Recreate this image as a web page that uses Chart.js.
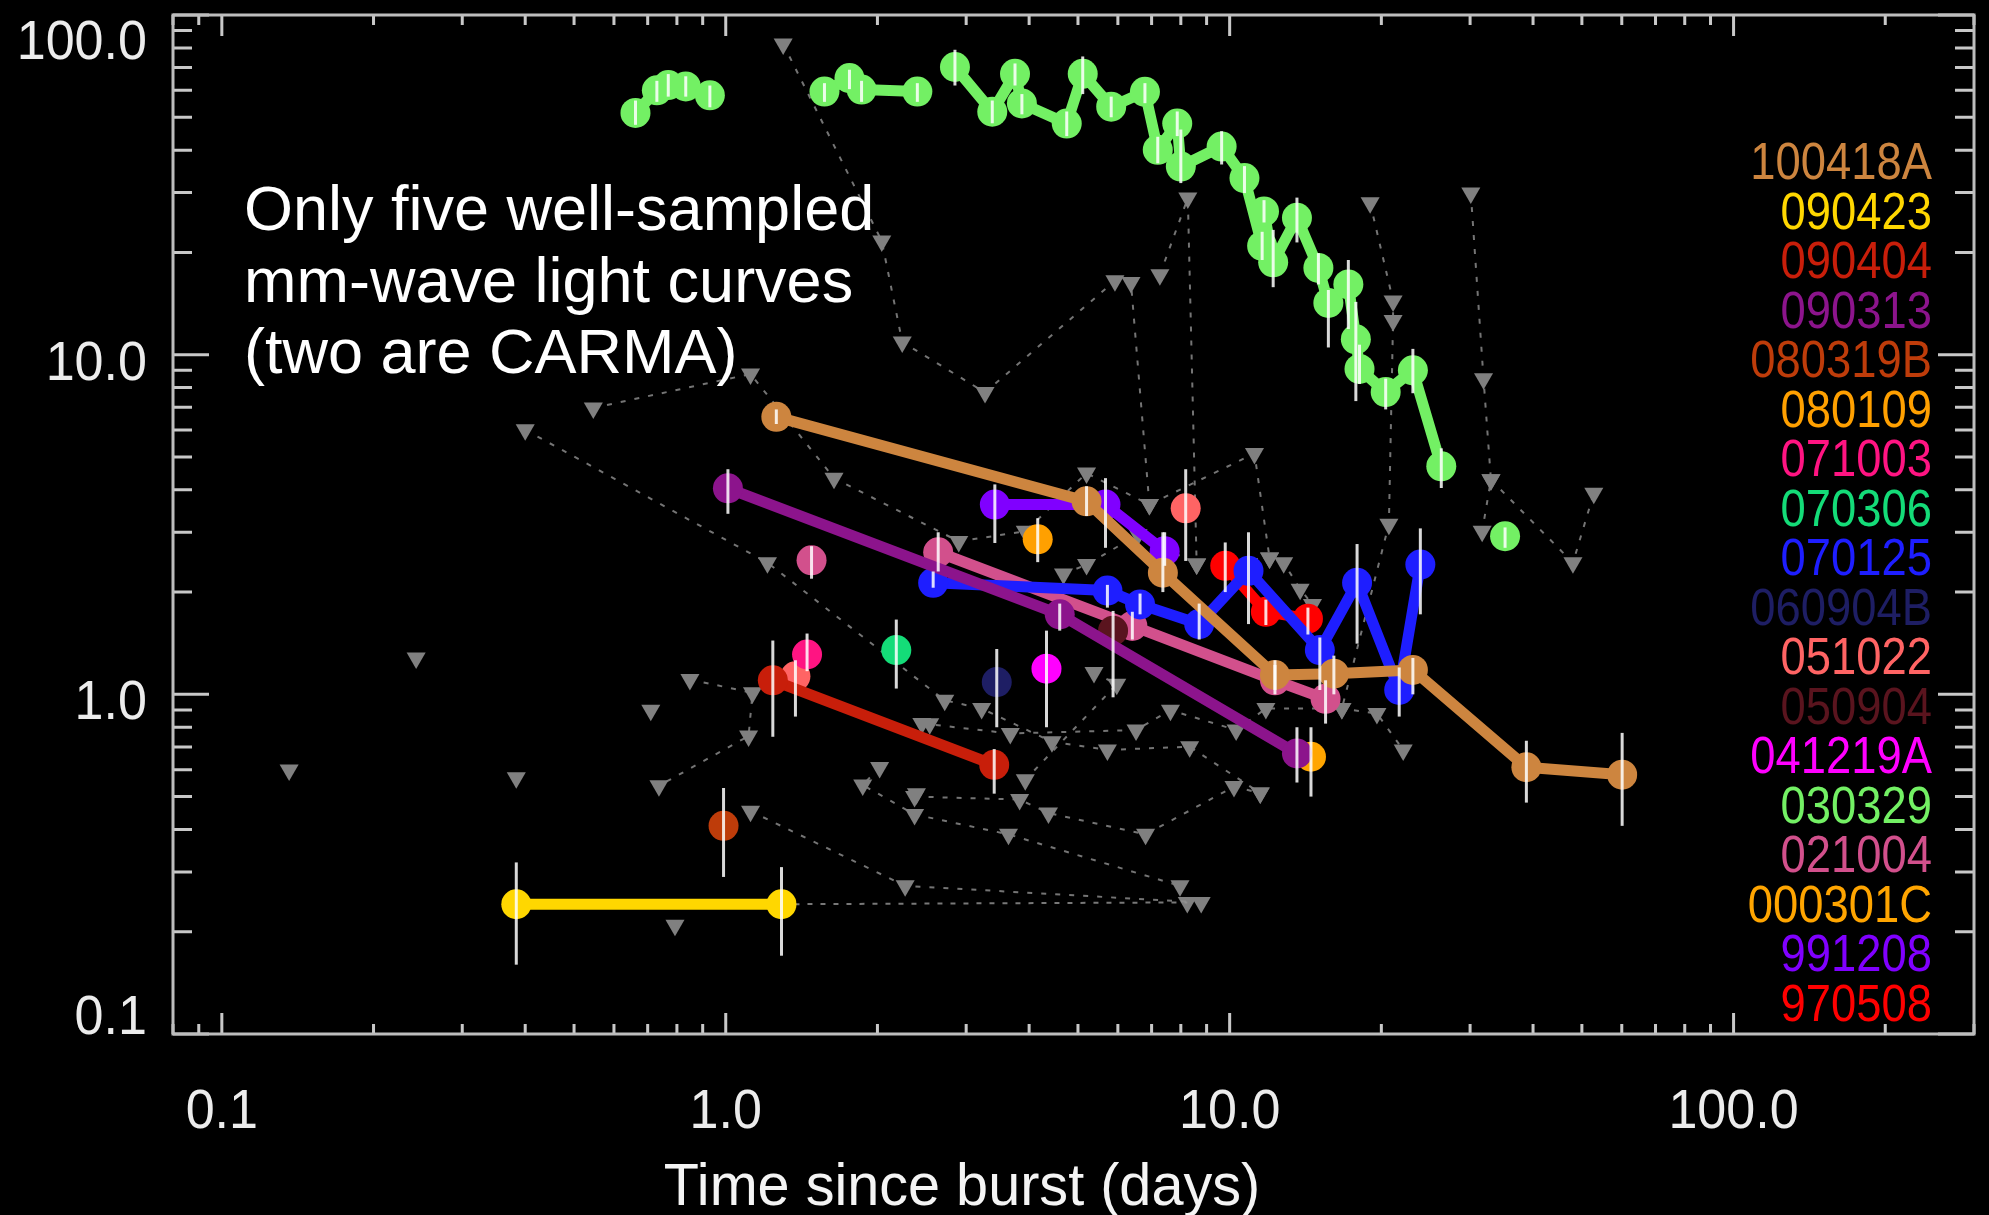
<!DOCTYPE html>
<html>
<head>
<meta charset="utf-8">
<script src="https://cdn.jsdelivr.net/npm/chart.js@4.4.0/dist/chart.umd.min.js"></script>
<style>
  html, body { margin: 0; padding: 0; background: #000; overflow: hidden; }
  #wrap { width: 1989px; height: 1215px; position: relative; background: #000; }
  canvas { display: block; }
</style>
</head>
<body>
<div id="wrap"><canvas id="c" width="1989" height="1215"></canvas></div>
<script>
// ------------------------------------------------------------------
// DATA
// ------------------------------------------------------------------
const burstNames = ['100418A','090423','090404','090313','080319B','080109','071003','070306',
                    '070125','060904B','051022','050904','041219A','030329','021004','000301C','991208','970508'];

const xTickValues = [0.1, 1, 10, 100];
const xTickLabels = ['0.1', '1.0', '10.0', '100.0'];
const yTickValues = [100, 10, 1, 0.1];
const yTickLabels = ['100.0', '10.0', '1.0', '0.1'];

const annotationLines = ['Only five well-sampled', 'mm-wave light curves', '(two are CARMA)'];
const xAxisTitle = 'Time since burst (days)';

// time since burst (days), flux, error-bar low, error-bar high
const t100418A  = [1.26, 5.2, 7.37, 12.3, 16.1, 23.1, 38.8, 60.1];
const f100418A  = [6.56, 3.70, 2.28, 1.14, 1.15, 1.18, 0.61, 0.58];
const lo100418A = [6.25, 3.35, 2.0, 1.03, 1.0, 1.0, 0.48, 0.41];
const hi100418A = [6.9, 4.1, 3.0, 1.26, 1.3, 1.28, 0.73, 0.77];

const t090423  = [0.384, 1.29];
const f090423  = [0.241, 0.241];
const lo090423 = [0.16, 0.17];
const hi090423 = [0.32, 0.31];

const t090404  = [1.24, 3.41];
const f090404  = [1.10, 0.62];
const lo090404 = [0.75, 0.51];
const hi090404 = [1.44, 0.69];

const t090313  = [1.01, 4.6, 13.6];
const f090313  = [4.04, 1.72, 0.67];
const lo090313 = [3.4, 1.54, 0.55];
const hi090313 = [4.6, 1.85, 0.80];

const t080319B  = [0.99];
const f080319B  = [0.41];
const lo080319B = [0.29];
const hi080319B = [0.53];

const t080109  = [4.16];
const f080109  = [2.86];
const lo080109 = [2.45];
const hi080109 = [3.3];

const t071003  = [1.45];
const f071003  = [1.31];
const lo071003 = [1.17];
const hi071003 = [1.51];

const t070306  = [2.18];
const f070306  = [1.35];
const lo070306 = [1.04];
const hi070306 = [1.66];

const t070125  = [2.58, 5.72, 6.64, 8.7, 10.9, 15.1, 17.9, 21.7, 23.9];
const f070125  = [2.13, 2.02, 1.84, 1.61, 2.31, 1.35, 2.13, 1.03, 2.41];
const lo070125 = [2.06, 1.8, 1.72, 1.45, 1.61, 1.03, 1.41, 0.86, 1.72];
const hi070125 = [2.3, 2.1, 1.98, 1.85, 3.0, 1.47, 2.77, 1.2, 3.08];

const t060904B  = [3.45];
const f060904B  = [1.087];
const lo060904B = [0.80];
const hi060904B = [1.36];

const t051022  = [1.375, 8.18];
const f051022  = [1.13, 3.53];
const lo051022 = [0.86, 2.47];
const hi051022 = [1.26, 4.6];

const t050904  = [5.87];
const f050904  = [1.54];
const lo050904 = [0.98];
const hi050904 = [1.76];

const t041219A  = [4.33];
const f041219A  = [1.19];
const lo041219A = [0.80];
const hi041219A = [1.54];

const t030329  = [0.662, 0.730, 0.769, 0.833, 0.930, null, 1.57, 1.76, 1.86, 2.40, null,
                  2.85, 3.38, 3.75, 3.87, 4.75, 5.11, 5.82, 6.79, 7.2, 7.87, 8.0, 9.64, 10.7,
                  11.6, 11.7, 12.2, 13.6, 15.0, 15.7, 17.2, 17.8, 18.1, 20.4, 23.1, 26.3, null, 35.2];
const f030329  = [51.5, 60.0, 62.2, 61.6, 58.0, null, 59.5, 65.2, 60.3, 59.5, null,
                  70.3, 51.9, 67.1, 54.9, 47.9, 67.1, 53.7, 59.4, 40.1, 47.9, 35.8, 41.0, 33.1,
                  20.9, 26.4, 18.7, 25.3, 18.0, 14.2, 16.1, 11.1, 9.08, 7.76, 8.99, 4.69, null, 2.92];
const lo030329 = [47.5, 55.5, 57.5, 57.5, 53.5, null, 55.5, 60.5, 55.5, 55.5, null,
                  62, 48, 62, 51, 44, 58.5, 50, 55, 36.6, 44, 32, 36.3, 29.9,
                  19, 24.5, 15.8, 21.4, 16.1, 10.5, 11.9, 7.3, 8.2, 6.9, 7.7, 4.05, null, 2.7];
const hi030329 = [56, 64, 67, 66, 62, null, 63, 69, 64, 63, null,
                  79, 56, 72, 58.5, 52, 75.5, 57.5, 63, 43.8, 52, 46, 45.5, 35.9,
                  23, 28.5, 23.3, 29, 19.9, 15.5, 19, 14.3, 10.7, 8.5, 10.4, 5.3, null, 3.1];

const t021004  = [1.48, null, 2.64, 6.41, 12.3, 15.5];
const f021004  = [2.48, null, 2.62, 1.59, 1.10, 0.97];
const lo021004 = [2.19, null, 2.3, 1.45, 1.0, 0.82];
const hi021004 = [2.73, null, 3.0, 1.75, 1.22, 1.1];

const t000301C  = [14.5];
const f000301C  = [0.655];
const lo000301C = [0.50];
const hi000301C = [0.80];

const t991208  = [3.42, 5.67, 7.43];
const f991208  = [3.62, 3.62, 2.64];
const lo991208 = [2.79, 2.70, 2.39];
const hi991208 = [4.15, 4.33, 3.0];

const t970508  = [9.8, 11.8, 14.3];
const f970508  = [2.39, 1.75, 1.67];
const lo970508 = [2.0, 1.6, 1.5];
const hi970508 = [2.8, 1.9, 1.8];

// upper limits (grey triangles), tracks joined by dashed lines, null = break
const limitDays = [
  0.40, 1.21, 2.72, 3.22, 4.44, 5.72, 8.33, 11.5, null,
  0.546, 1.12, 1.64, 2.90, 3.93, 5.2, 6.93, 11.2, 12.0, null,
  1.30, 2.04, 2.24, 3.27, 5.92, 6.37, 6.93, null,
  7.27, 8.26, 8.6, 12.0, 12.8, 13.8, 14.6, null,
  19.0, 21.1, 21.1, 20.7, 16.7, null,
  30.1, 31.9, 33.0, 31.7, null,
  33.0, 48.0, 52.8, null,
  1.12, 2.27, 8.78, null,
  2.37, 3.83, 4.37, 6.81, 10.2, 11.5, null,
  2.02, 1.87, 2.37, 3.64, 7.97, null,
  2.45, 3.67, 6.52, 7.63, 10.3, 11.8, 16.7, 19.6, 22.1, null,
  4.68, 5.2, 6.58, 8.6, null,
  0.849, 1.13, 1.11, 0.737, null,
  5.38, 5.97, 3.93
];
const limitFlux = [
  6.01, 2.44, 0.96, 0.908, 0.725, 0.686, 0.701, 0.512, null,
  6.97, 8.77, 4.33, 2.82, 3.02, 4.48, 3.62, 5.12, 2.52, null,
  82.2, 21.6, 10.9, 7.74, 16.5, 16.3, 3.62, null,
  17.2, 28.9, 2.42, 2.52, 2.44, 2.04, 1.84, null,
  28.0, 14.4, 12.6, 3.17, 0.908, null,
  29.9, 8.49, 4.28, 3.02, null,
  4.28, 2.44, 3.91, null,
  0.453, 0.273, 0.244, null,
  0.50, 0.49, 0.447, 0.387, 0.535, 0.512, null,
  0.609, 0.541, 0.443, 0.387, 0.273, null,
  0.821, 0.767, 0.785, 0.898, 0.785, 0.908, 0.908, 0.878, 0.686, null,
  2.26, 2.41, 2.95, 2.42, null,
  1.106, 1.01, 0.754, 0.538, null,
  1.16, 1.07, 0.56
];
// isolated upper limits
const isoLimitDays = [0.136, 0.243, 0.384, 0.793, 0.710, 2.39, 8.24, 2.54];
const isoLimitFlux = [0.599, 1.28, 0.568, 0.209, 0.898, 0.51, 0.244, 0.819];
// dashed connector without markers (090423 to later limit)
const connectorDays = [1.29, 8.24];
const connectorFlux = [0.241, 0.244];

// ------------------------------------------------------------------
// STYLE / LAYOUT (not data)
// ------------------------------------------------------------------
const burstColors = ['#cd853f','#ffd700','#c81e0a','#8c148c','#be3c0a','#ffa000','#ff1482','#14dc78',
                     '#1e1eff','#1e1e64','#ff6464','#5a141e','#ff00ff','#73f064','#d2508c','#ffa500','#8000ff','#ff0000'];
const burstSeries = [
  [t100418A, f100418A, lo100418A, hi100418A, true],
  [t090423, f090423, lo090423, hi090423, true],
  [t090404, f090404, lo090404, hi090404, true],
  [t090313, f090313, lo090313, hi090313, true],
  [t080319B, f080319B, lo080319B, hi080319B, true],
  [t080109, f080109, lo080109, hi080109, true],
  [t071003, f071003, lo071003, hi071003, true],
  [t070306, f070306, lo070306, hi070306, true],
  [t070125, f070125, lo070125, hi070125, true],
  [t060904B, f060904B, lo060904B, hi060904B, true],
  [t051022, f051022, lo051022, hi051022, false],
  [t050904, f050904, lo050904, hi050904, true],
  [t041219A, f041219A, lo041219A, hi041219A, true],
  [t030329, f030329, lo030329, hi030329, true],
  [t021004, f021004, lo021004, hi021004, true],
  [t000301C, f000301C, lo000301C, hi000301C, true],
  [t991208, f991208, lo991208, hi991208, true],
  [t970508, f970508, lo970508, hi970508, true]
];

const FONT = '"Liberation Sans", Arial, Helvetica, sans-serif';
const L = {
  yLabelRight: 147, yLabelDy: [24, 5, 5, -20], tickFont: 56, tickHScale: 0.93,
  xLabelCenterY: 1107.5,
  titleCenterX: 962, titleBaseline: 1205, titleFont: 60, titleHScale: 0.96,
  annoX: 244, annoBaselines: [230, 302, 373], annoFont: 63,
  legendRight: 1932, legendTop: 161, legendStep: 49.5, legendFont: 51, legendHScale: 0.89,
  frameColor: '#bdbdbd', tickColor: '#c8c8c8'
};

const pts = (xs, ys) => xs.map((v, i) => ({ x: v, y: ys[i] }));

// ------------------------------------------------------------------
const datasets = [];
burstSeries.forEach((s, i) => {
  datasets.push({
    label: burstNames[i],
    data: pts(s[0], s[1]),
    errLo: s[2], errHi: s[3],
    showLine: s[4],
    spanGaps: false,
    borderColor: burstColors[i],
    backgroundColor: burstColors[i],
    borderWidth: 11,
    borderJoinStyle: 'round',
    borderCapStyle: 'round',
    pointRadius: 15,
    pointHoverRadius: 15,
    pointBorderWidth: 0,
    pointBackgroundColor: burstColors[i]
  });
});
datasets.push({
  label: 'connector',
  data: pts(connectorDays, connectorFlux),
  showLine: true, spanGaps: false,
  borderColor: 'rgba(150,150,150,0.8)', borderWidth: 2, borderDash: [5, 8],
  pointRadius: 0, pointHoverRadius: 0
});
datasets.push({
  label: 'upper limits',
  data: pts(limitDays, limitFlux),
  showLine: true, spanGaps: false,
  borderColor: 'rgba(145,145,145,0.8)', borderWidth: 2, borderDash: [5, 9],
  pointStyle: 'triangle', pointRotation: 180, pointRadius: 11, pointHoverRadius: 11,
  pointBackgroundColor: '#808080', pointBorderWidth: 0
});
datasets.push({
  label: 'isolated limits',
  data: pts(isoLimitDays, isoLimitFlux),
  showLine: false,
  pointStyle: 'triangle', pointRotation: 180, pointRadius: 11, pointHoverRadius: 11,
  pointBackgroundColor: '#808080', pointBorderWidth: 0, borderWidth: 0
});

function drawText(ctx, text, x, y, size, color, align, hScale) {
  ctx.save();
  ctx.font = size + 'px ' + FONT;
  ctx.fillStyle = color;
  ctx.textAlign = align;
  ctx.textBaseline = 'alphabetic';
  ctx.translate(x, y);
  ctx.scale(hScale, 1);
  ctx.fillText(text, 0, 0);
  ctx.restore();
}

function logTicks(min, max) {
  const out = [];
  for (let e = Math.floor(Math.log10(min)); e <= Math.ceil(Math.log10(max)); e++) {
    for (let m = 1; m <= 9; m++) {
      const v = m * Math.pow(10, e);
      if (v >= min * 0.9999 && v <= max * 1.0001) out.push({ v, major: m === 1 });
    }
  }
  return out;
}

const bgPlugin = {
  id: 'bg',
  beforeDraw(chart) {
    const c = chart.ctx;
    c.save(); c.fillStyle = '#000'; c.fillRect(0, 0, chart.width, chart.height); c.restore();
  }
};

const errorBarPlugin = {
  id: 'errorBars',
  afterDatasetsDraw(chart) {
    const { ctx, scales: { x, y } } = chart;
    ctx.save();
    ctx.strokeStyle = 'rgba(255,255,255,0.85)';
    ctx.lineWidth = 3;
    chart.data.datasets.forEach(ds => {
      if (!ds.errLo) return;
      ds.data.forEach((p, i) => {
        if (p.x == null || ds.errLo[i] == null) return;
        const px = x.getPixelForValue(p.x);
        ctx.beginPath();
        ctx.moveTo(px, y.getPixelForValue(ds.errLo[i]));
        ctx.lineTo(px, y.getPixelForValue(ds.errHi[i]));
        ctx.stroke();
      });
    });
    ctx.restore();
  }
};

const framePlugin = {
  id: 'frame',
  afterDraw(chart) {
    const { ctx, chartArea: a, scales: { x, y } } = chart;
    ctx.save();
    // ticks
    ctx.strokeStyle = L.tickColor;
    ctx.lineWidth = 3;
    logTicks(x.min, x.max).forEach(t => {
      const px = x.getPixelForValue(t.v);
      const len = t.major ? 21 : 10;
      ctx.beginPath();
      ctx.moveTo(px, a.bottom); ctx.lineTo(px, a.bottom - len);
      ctx.moveTo(px, a.top); ctx.lineTo(px, a.top + len);
      ctx.stroke();
    });
    logTicks(y.min, y.max).forEach(t => {
      const py = y.getPixelForValue(t.v);
      const len = t.major ? 36 : 19;
      ctx.beginPath();
      ctx.moveTo(a.left, py); ctx.lineTo(a.left + len, py);
      ctx.moveTo(a.right, py); ctx.lineTo(a.right - len, py);
      ctx.stroke();
    });
    // frame
    ctx.strokeStyle = L.frameColor;
    ctx.lineWidth = 3;
    ctx.strokeRect(a.left, a.top, a.right - a.left, a.bottom - a.top);
    ctx.restore();

    // tick labels
    const asc = 0.358 * L.tickFont;
    yTickValues.forEach((v, i) => {
      const cy = y.getPixelForValue(v) + L.yLabelDy[i];
      drawText(ctx, yTickLabels[i], L.yLabelRight, cy + asc, L.tickFont, '#ececec', 'right', L.tickHScale);
    });
    xTickValues.forEach((v, i) => {
      const cx = x.getPixelForValue(v);
      drawText(ctx, xTickLabels[i], cx, L.xLabelCenterY + asc, L.tickFont, '#ececec', 'center', L.tickHScale);
    });
    // axis title
    drawText(ctx, xAxisTitle, L.titleCenterX, L.titleBaseline, L.titleFont, '#f4f4f4', 'center', L.titleHScale);
    // annotation
    annotationLines.forEach((s, i) => {
      drawText(ctx, s, L.annoX, L.annoBaselines[i], L.annoFont, '#ffffff', 'left', 1);
    });
    // legend (burst names)
    burstNames.forEach((n, i) => {
      const cy = L.legendTop + i * L.legendStep;
      drawText(ctx, n, L.legendRight, cy + 0.358 * L.legendFont, L.legendFont, burstColors[i], 'right', L.legendHScale);
    });
  }
};

new Chart(document.getElementById('c'), {
  type: 'scatter',
  data: { datasets },
  options: {
    responsive: false,
    animation: false,
    devicePixelRatio: 1,
    events: [],
    layout: { padding: { top: 11, right: 12, left: 0, bottom: 0 } },
    plugins: { legend: { display: false }, tooltip: { enabled: false }, title: { display: false } },
    scales: {
      x: {
        type: 'logarithmic', min: 0.08, max: 300,
        ticks: { display: false }, grid: { display: false }, border: { display: false },
        afterFit(s) { s.height = 181; }
      },
      y: {
        type: 'logarithmic', min: 0.1, max: 100,
        ticks: { display: false }, grid: { display: false }, border: { display: false },
        afterFit(s) { s.width = 173; }
      }
    }
  },
  plugins: [bgPlugin, errorBarPlugin, framePlugin]
});
</script>
</body>
</html>
